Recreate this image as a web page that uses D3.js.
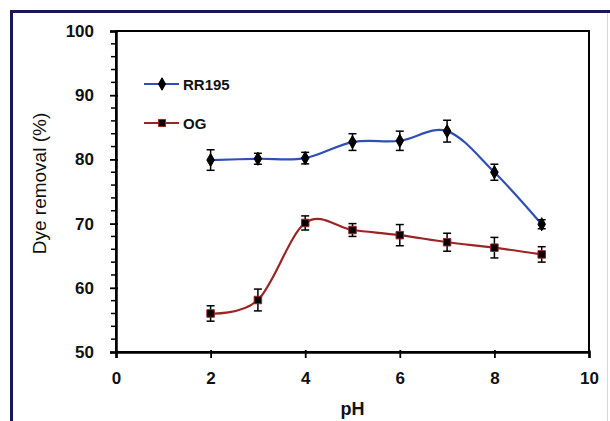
<!DOCTYPE html>
<html><head><meta charset="utf-8">
<script src="https://cdn.jsdelivr.net/npm/d3@7"></script>
<style>html,body{margin:0;padding:0;background:#fff;}svg{display:block;}</style>
</head><body>
<script>
const pH = [2, 3, 4, 5, 6, 7, 8, 9];
const rr195 = [79.9, 80.1, 80.2, 82.7, 82.9, 84.4, 78.0, 69.9];
const rr195Err = [1.6, 0.85, 0.9, 1.3, 1.5, 1.7, 1.25, 0.7];
const og = [56.0, 58.1, 70.1, 69.0, 68.2, 67.1, 66.25, 65.2];
const ogErr = [1.2, 1.7, 1.1, 1.0, 1.65, 1.4, 1.6, 1.2];
const xTicks = [0, 2, 4, 6, 8, 10];
const yTicks = [50, 60, 70, 80, 90, 100];
const seriesNames = ["RR195", "OG"];

const W = 610, H = 421;
const svg = d3.select("body").append("svg").attr("width", W).attr("height", H);

// outer frame
svg.append("rect").attr("x", 11.5).attr("y", 11.5).attr("width", 640).attr("height", 440)
  .attr("fill", "none").attr("stroke", "#17175c").attr("stroke-width", 3);
svg.append("line").attr("x1", 607.5).attr("x2", 607.5).attr("y1", 13).attr("y2", 421)
  .attr("stroke", "#d8d8d8").attr("stroke-width", 1);

const L = 116, R = 589, T = 31, B = 352;
const x = d3.scaleLinear().domain([0, 10]).range([L, R]);
const y = d3.scaleLinear().domain([50, 100]).range([B, T]);

const font = "'Liberation Sans', Arial, sans-serif";

// plot box
svg.append("rect").attr("x", L).attr("y", T).attr("width", R - L).attr("height", B - T)
  .attr("fill", "none").attr("stroke", "#000").attr("stroke-width", 2);

// y axis
const yAxis = d3.axisLeft(y).tickValues(yTicks).tickSize(6).tickPadding(16);
const gy = svg.append("g").attr("transform", `translate(${L},0)`).call(yAxis);
gy.select(".domain").attr("stroke-width", 2.5);
gy.selectAll(".tick line").attr("stroke-width", 1.8).attr("x2", -6).attr("x1", 2);
gy.selectAll(".tick text").attr("font-family", font).attr("font-weight", "bold")
  .attr("font-size", 17).attr("fill", "#111");
// minor ticks
const minor = d3.range(50, 100.01, 2).filter(v => v % 10 !== 0);
svg.append("g").selectAll("line").data(minor).join("line")
  .attr("x1", L - 5).attr("x2", L + 1).attr("y1", d => y(d)).attr("y2", d => y(d))
  .attr("stroke", "#000").attr("stroke-width", 1.5);

// x axis
const xAxis = d3.axisBottom(x).tickValues(xTicks).tickSize(6).tickPadding(14);
const gx = svg.append("g").attr("transform", `translate(0,${B})`).call(xAxis);
gx.select(".domain").attr("stroke-width", 2.5);
gx.selectAll(".tick line").attr("stroke-width", 1.8).attr("y1", -2);
gx.selectAll(".tick text").attr("font-family", font).attr("font-weight", "bold")
  .attr("font-size", 17).attr("fill", "#111");

// titles
svg.append("text").attr("transform", `translate(46,${(T + B) / 2 - 8}) rotate(-90)`)
  .attr("text-anchor", "middle").attr("font-family", font).attr("font-size", 19)
  .attr("fill", "#111").text("Dye removal (%)");
svg.append("text").attr("x", (L + R) / 2).attr("y", 415).attr("text-anchor", "middle")
  .attr("font-family", font).attr("font-weight", "bold").attr("font-size", 18)
  .attr("fill", "#111").text("pH");

const line = d3.line().x((d, i) => x(pH[i])).y(d => y(d)).curve(d3.curveCardinal.tension(0));

const series = [
  { name: seriesNames[0], vals: rr195, err: rr195Err, color: "#2f4fb5", marker: "diamond" },
  { name: seriesNames[1], vals: og, err: ogErr, color: "#9b2424", marker: "square" }
];

series.forEach(s => {
  svg.append("path").attr("d", line(s.vals)).attr("fill", "none")
    .attr("stroke", s.color).attr("stroke-width", 2.2);
  const g = svg.append("g");
  s.vals.forEach((v, i) => {
    const cx = x(pH[i]);
    const y1 = y(v + s.err[i]), y2 = y(v - s.err[i]);
    g.append("line").attr("x1", cx).attr("x2", cx).attr("y1", y1).attr("y2", y2)
      .attr("stroke", "#000").attr("stroke-width", 1.5);
    [y1, y2].forEach(yy => g.append("line").attr("x1", cx - 4).attr("x2", cx + 4)
      .attr("y1", yy).attr("y2", yy).attr("stroke", "#000").attr("stroke-width", 1.5));
  });
  const sym = s.marker === "diamond" ? d3.symbolDiamond : d3.symbolSquare;
  const size = s.marker === "diamond" ? 50 : 56;
  g.selectAll("path.m").data(s.vals).join("path").attr("class", "m")
    .attr("d", d3.symbol().type(sym).size(size))
    .attr("transform", (d, i) => `translate(${x(pH[i])},${y(d)})`)
    .attr("fill", "#000").attr("stroke", s.marker === "square" ? s.color : "#000")
    .attr("stroke-width", 1);
});

// legend
const legY = [84, 123];
series.forEach((s, i) => {
  const g = svg.append("g").attr("transform", `translate(0,${legY[i]})`);
  g.append("line").attr("x1", 144).attr("x2", 179).attr("y1", 0).attr("y2", 0)
    .attr("stroke", s.color).attr("stroke-width", 2.2);
  const sym = s.marker === "diamond" ? d3.symbolDiamond : d3.symbolSquare;
  g.append("path").attr("d", d3.symbol().type(sym).size(s.marker === "diamond" ? 45 : 50))
    .attr("transform", "translate(162,0)").attr("fill", "#000")
    .attr("stroke", s.marker === "square" ? s.color : "#000");
  g.append("text").attr("x", 183).attr("y", 5.5).attr("font-family", font)
    .attr("font-weight", "bold").attr("font-size", 15).attr("fill", "#111").text(s.name);
});
</script>
</body></html>
